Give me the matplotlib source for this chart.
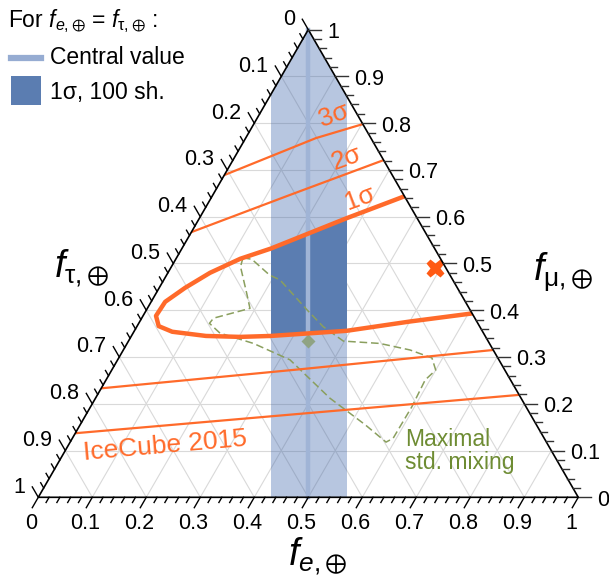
import numpy as np
import matplotlib.pyplot as plt
from matplotlib.patches import Polygon, Rectangle
from matplotlib.lines import Line2D

plt.rcParams['font.family'] = ['Liberation Sans', 'DejaVu Sans']
plt.rcParams['mathtext.fontset'] = 'custom'
plt.rcParams['mathtext.rm'] = 'Liberation Sans'
plt.rcParams['mathtext.it'] = 'Liberation Sans:italic'
plt.rcParams['mathtext.fallback'] = 'stixsans'

# --- data (flavour fractions fe, fmu; ftau = 1 - fe - fmu) ---
sig1_fe = [0.400, 0.357, 0.273, 0.165, 0.119, 0.078, 0.048, 0.026, 0.024,
           0.040, 0.071, 0.138, 0.202, 0.258, 0.393, 0.501, 0.606, 0.660]
sig1_fmu = [0.668, 0.644, 0.597, 0.532, 0.510, 0.480, 0.448, 0.418, 0.388,
            0.366, 0.354, 0.345, 0.343, 0.345, 0.356, 0.376, 0.393, 0.402]

sig2_up_fe = [-0.03, 0.0, 0.14, 0.279, 0.31]
sig2_up_fmu = [0.551, 0.567, 0.645, 0.721, 0.737]
sig3_up_fe = [-0.03, 0.0, 0.13, 0.202, 0.23]
sig3_up_fmu = [0.673, 0.689, 0.768, 0.798, 0.810]
sig2_lo_fe = [-0.03, 0.0, 0.35, 0.685, 0.72]
sig2_lo_fmu = [0.229, 0.233, 0.274, 0.315, 0.319]
sig3_lo_fe = [-0.03, 0.0, 0.40, 0.781, 0.82]
sig3_lo_fmu = [0.133, 0.137, 0.179, 0.219, 0.223]

# maximal standard mixing region
mix_fe = [0.123, 0.141, 0.191, 0.215, 0.297, 0.345, 0.398, 0.468, 0.531,
          0.580, 0.600, 0.591, 0.595, 0.594, 0.585, 0.528, 0.434, 0.319,
          0.234, 0.161, 0.131, 0.133, 0.190, 0.168, 0.128, 0.123]
mix_fmu = [0.512, 0.509, 0.475, 0.465, 0.401, 0.365, 0.334, 0.329, 0.315,
           0.298, 0.272, 0.251, 0.194, 0.126, 0.118, 0.155, 0.212, 0.294,
           0.329, 0.351, 0.372, 0.383, 0.404, 0.436, 0.493, 0.512]

band_lo, band_hi, band_central = 0.431, 0.571, 0.50   # position along base
tbm_point = (1/3, 1/3)      # (fe, fmu)
mu_damped = (0.49, 0.49)

ticks = np.round(np.arange(0, 1.0001, 0.02), 2)
tick_labels = ['0', '0.1', '0.2', '0.3', '0.4', '0.5', '0.6', '0.7', '0.8', '0.9', '1']

orange = '#ff6a2a'
H = np.sqrt(3) / 2
p = 1 / 540  # one pixel in data units


def tern(fe, fmu):
    fe = np.asarray(fe, float)
    fmu = np.asarray(fmu, float)
    return fe + fmu / 2, fmu * H


fig = plt.figure(figsize=(6.09, 5.77), dpi=100)
ax = fig.add_axes([0, 0, 1, 1])
ax.set_xlim(-0.0709, 1.0569)
ax.set_ylim(-0.1476, 0.9209)
ax.axis('off')

verts = [[0, 0], [1, 0], [0.5, H]]
clip = Polygon(verts, closed=True, fc='none', ec='none')
ax.add_patch(clip)

# grid
for k in np.arange(0.1, 0.95, 0.1):
    for a, b in [((0, k), (1 - k, k)), ((k, 0), (k, 1 - k)), ((1 - k, 0), (0, 1 - k))]:
        x, y = tern([a[0], b[0]], [a[1], b[1]])
        ax.plot(x, y, color='#d9d9d9', lw=0.8, zorder=1)

# bands
light = Rectangle((band_lo, 0), band_hi - band_lo, H, fc=(60/255, 100/255, 170/255),
                  alpha=0.365, ec='none', zorder=2)
ax.add_patch(light)
light.set_clip_path(clip)

sx, sy = tern(sig1_fe, sig1_fmu)
sig1_poly = Polygon(np.column_stack([sx, sy]), closed=True, transform=ax.transData)
dark = Rectangle((band_lo, 0), band_hi - band_lo, H, fc='#5b7db1', ec='none', zorder=3)
ax.add_patch(dark)
dark.set_clip_path(sig1_poly)

ax.plot([band_central, band_central], [0, H], color='#a0b4d6', lw=3.2, zorder=4)

# maximal mixing
mx, my = tern(mix_fe, mix_fmu)
ax.plot(mx, my, color='#8a9f5e', lw=1.1, ls=(0, (5, 2.5)), zorder=5)
tx, ty = tern(*tbm_point)
ax.plot(tx, ty, marker='D', ms=7, color='#8fa383', mec='none', zorder=6)

# IceCube contours
ln, = ax.plot(sx, sy, color=orange, lw=3.2, zorder=7, solid_capstyle='butt',
              solid_joinstyle='round')
ln.set_clip_path(clip)
for fe, fmu in [(sig2_up_fe, sig2_up_fmu), (sig3_up_fe, sig3_up_fmu),
                (sig2_lo_fe, sig2_lo_fmu), (sig3_lo_fe, sig3_lo_fmu)]:
    x, y = tern(fe, fmu)
    ln, = ax.plot(x, y, color=orange, lw=1.6, zorder=7)
    ln.set_clip_path(clip)

mx0, my0 = tern(*mu_damped)
ax.plot(mx0, my0, marker='X', ms=13, color='#ff5a14', mec='none', zorder=8)

# triangle frame
ax.add_patch(Polygon(verts, closed=True, fill=False, ec='black', lw=1.2, zorder=10))

# ticks
for t in ticks:
    major = abs(t * 10 - round(t * 10)) < 1e-6
    # bottom: fe
    bx, by = tern(t, 0)
    L = (12 if major else 6) * p
    ax.plot([bx, bx - 0.5 * L], [by, by - H * L], color='black', lw=1.0, zorder=10)
    # left: ftau
    lx, ly = tern(0, 1 - t)
    ax.plot([lx, lx - 0.5 * L], [ly, ly + H * L], color='black', lw=1.0, zorder=10)
    # right: fmu
    rx, ry = tern(1 - t, t)
    L = (13 if major else 7) * p
    ax.plot([rx, rx + L], [ry, ry], color='#333333', lw=1.0, zorder=10)
    if major:
        lab = tick_labels[int(round(t * 10))]
        ax.text(bx - 7 * p, by - 26 * p, lab, ha='center', va='center', fontsize=15.5)
        ax.text(lx - 13 * p, ly + 10 * p, lab, ha='right', va='center', fontsize=15.5)
        ax.text(rx + 19 * p, ry - 3 * p, lab, ha='left', va='center', fontsize=15.5)


def P(px, py):
    return px / 609, 1 - py / 577


# axis labels
fig.text(*P(318, 556), r'$f_{e,⊕}$', fontsize=27, ha='center', va='center')
fig.text(*P(82, 268), r'$f_{\mathrm{\tau},⊕}$', fontsize=27, ha='center', va='center')
fig.text(*P(563, 272), r'$f_{\mathrm{\mu},⊕}$', fontsize=27, ha='center', va='center')

# contour labels
fig.text(*P(334, 115), '3σ', color=orange, fontsize=18.5, rotation=20, ha='center', va='center')
fig.text(*P(347, 158), '2σ', color=orange, fontsize=18.5, rotation=20, ha='center', va='center')
fig.text(*P(360, 198), '1σ', color=orange, fontsize=18.5, rotation=20, ha='center', va='center')
fig.text(*P(165, 446), 'IceCube 2015', color=orange, fontsize=19, rotation=5,
         ha='center', va='center')
fig.text(*P(405, 439), 'Maximal', color='#6e8c33', fontsize=16.5, ha='left', va='center')
fig.text(*P(405, 463), 'std. mixing', color='#6e8c33', fontsize=16.5, ha='left', va='center')

# legend
fig.text(*P(8, 21), r'For $f_{e,⊕}$ = $f_{\mathrm{\tau},⊕}$ :', fontsize=16.5,
         ha='left', va='center')
fig.add_artist(Line2D([11 / 609, 41 / 609], [1 - 58 / 577, 1 - 58 / 577],
                      color='#96acd2', lw=4.5, transform=fig.transFigure))
fig.text(*P(50, 58), 'Central value', fontsize=16.5, ha='left', va='center')
fig.add_artist(Rectangle(P(11, 105), 30 / 609, 29 / 577, fc='#5b7db1', ec='none',
                         transform=fig.transFigure))
fig.text(*P(50, 93), '1σ, 100 sh.', fontsize=16.5, ha='left', va='center')

fig.savefig('out.png', dpi=100)
